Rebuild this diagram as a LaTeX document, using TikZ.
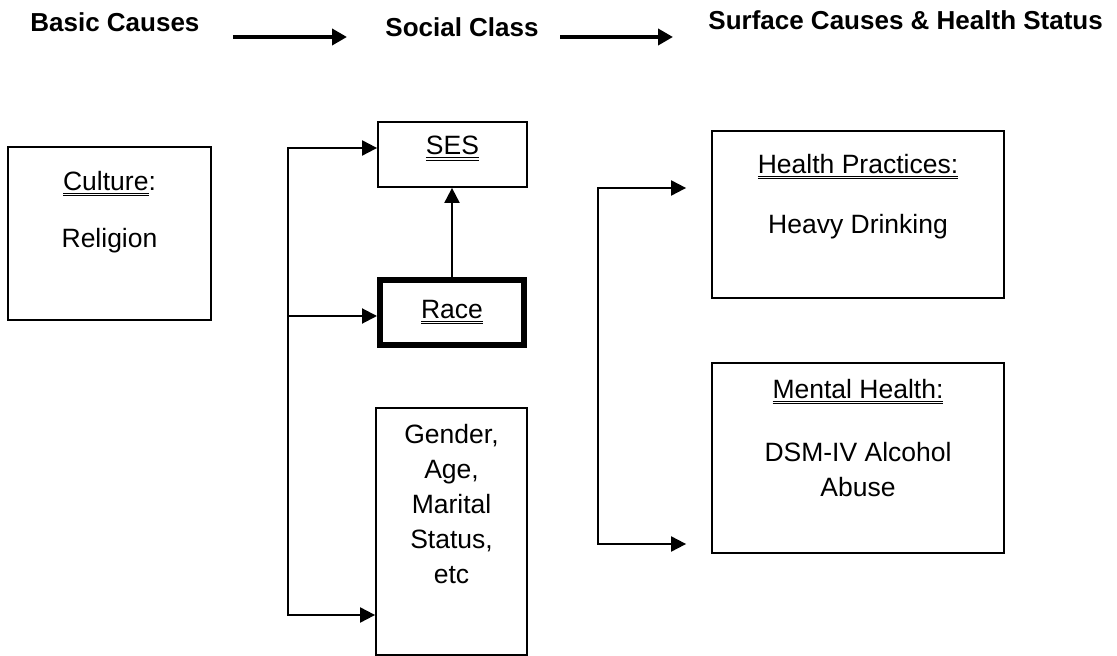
\documentclass[tikz,border=0pt]{standalone}
\usepackage{fontspec}
\setmainfont{Liberation Sans}
\usetikzlibrary{arrows.meta, positioning, calc, fit}

% double underline, close under the baseline
\newcommand{\dul}[1]{\setbox0\hbox{#1}\rlap{\rule[-1.5pt]{\wd0}{0.5pt}}\rlap{\rule[-2.9pt]{\wd0}{0.5pt}}\box0}

\begin{document}
\begin{tikzpicture}[
    x=0.5pt, y=-0.5pt,
    >={Triangle[length=7.5pt, width=7.5pt]},
    box/.style={draw, line width=0.9pt, inner sep=0pt},
    txt/.style={font=\fontsize{13.25}{17.5}\selectfont, align=center, inner sep=0pt, anchor=north},
    head/.style={font=\fontsize{13}{15}\selectfont\bfseries, inner sep=0pt, anchor=base west},
    link/.style={<->, line width=1pt},
    bigarrow/.style={-{Triangle[length=7.5pt, width=8pt]}, line width=2pt},
  ]

  % Background
  \path[use as bounding box, fill=white] (0,0) rectangle (1117,656);

  % === Column headings ===
  \node[head] (basic) at (30,32) {Basic Causes};
  \node[head] (social) at (385,37) {Social Class};
  \node[head] (surface) at (708,30) {Surface Causes \& Health Status};
  \draw[bigarrow] ($(basic.base east)+(33,5)$) -- ($(social.base west)+(-38,0)$);
  \draw[bigarrow] ($(social.base east)+(21,0)$) -- ($(surface.base west)+(-35,7)$);

  % === Basic causes ===
  \node[box, fit={(8,147) (211,320)}] (culture) {};
  \node[txt, below=12.5pt of culture.north] (culturetxt) {\dul{Culture}:\\[11pt]Religion};

  % === Social class ===
  \node[box, fit={(378,122) (527,187)}] (ses) {};
  \node[txt, below=7.5pt of ses.north] (sestxt) {\dul{SES}};
  \node[box, line width=3pt, fit={(380,280) (524,345)}] (race) {};
  \node[txt, below=11.5pt of race.north] (racetxt) {\dul{Race}};
  \node[box, fit={(376,408) (527,655)}] (gender) {};
  \node[txt, below=8.5pt of gender.north] (gendertxt)
    {Gender,\\Age,\\Marital\\Status,\\etc};

  % === Surface causes & health status ===
  \node[box, fit={(712,131) (1004,298)}] (health) {};
  \node[txt, below=12pt of health.north] (healthtxt)
    {\dul{Health Practices:}\\[12.5pt]Heavy Drinking};
  \node[box, fit={(712,363) (1004,553)}] (mental) {};
  \node[txt, below=8.5pt of mental.north] (mentaltxt)
    {\dul{Mental Health:}\\[14pt]DSM-IV Alcohol\\Abuse};

  % === Connectors ===
  \coordinate (lb1) at (288,148);
  \coordinate (lb2) at (288,316);
  \coordinate (lb3) at (288,615);
  \draw[link] (lb1 -| ses.west) -- (lb1) -- (lb3) -- (lb3 -| gender.west);
  \draw[->, line width=1pt] (lb2) -- (lb2 -| race.west);
  \draw[->, line width=1pt] (race.north) -- (race.north |- ses.south);

  \coordinate (rb1) at (598,188);
  \coordinate (rb2) at (598,544);
  \draw[link] ($(rb1 -| health.west)+(-25,0)$) -- (rb1) -- (rb2)
    -- ($(rb2 -| mental.west)+(-25,0)$);

\end{tikzpicture}
\end{document}
